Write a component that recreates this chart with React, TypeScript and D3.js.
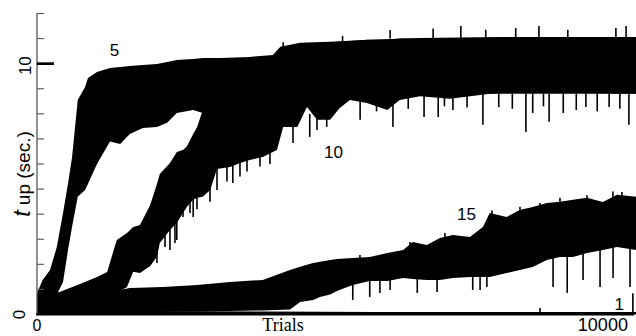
import * as d3 from "d3";

const WIDTH = 636;
const HEIGHT = 336;

// [trial, low edge, high edge] of each noisy band (sec.)
type Band = [number, number, number];

const series5: Band[] = [
  [0, 0.1, 0.86],
  [100, 0.15, 1.38],
  [230, 0.4, 1.77],
  [350, 0.8, 2.69],
  [460, 1.3, 4.05],
  [550, 2.6, 5.24],
  [620, 3.5, 6.28],
  [720, 4.69, 8.55],
  [850, 4.96, 9.07],
  [900, 5.2, 9.43],
  [1060, 6.0, 9.67],
  [1290, 6.9, 9.83],
  [1470, 6.8, 9.87],
  [1640, 7.2, 9.91],
  [1870, 7.44, 9.95],
  [2120, 7.48, 9.99],
  [2300, 7.64, 10.07],
  [2470, 8.03, 10.15],
  [2760, 8.15, 10.19],
  [2930, 8.03, 10.23],
  [3230, 8.15, 10.23],
  [3760, 8.35, 10.27],
  [4170, 8.45, 10.35],
  [4300, 8.55, 10.67],
  [4650, 8.6, 10.83],
  [5180, 8.65, 10.87],
  [5880, 8.7, 10.95],
  [6770, 8.75, 11.02],
  [8180, 8.8, 11.06],
  [10600, 8.8, 11.06],
];

const series10: Band[] = [
  [0, 0.02, 0.9],
  [400, 0.02, 0.9],
  [760, 0.05, 1.22],
  [1060, 0.1, 1.5],
  [1240, 0.15, 1.69],
  [1340, 0.2, 2.45],
  [1410, 0.86, 2.97],
  [1590, 1.1, 3.25],
  [1700, 1.7, 3.49],
  [1820, 1.65, 3.57],
  [2000, 1.93, 4.37],
  [2120, 2.3, 5.2],
  [2170, 2.85, 5.6],
  [2350, 3.37, 6.04],
  [2470, 3.65, 6.48],
  [2580, 4.05, 6.56],
  [2650, 4.3, 6.71],
  [2760, 4.57, 7.2],
  [2830, 4.65, 7.48],
  [2930, 4.69, 8.15],
  [3060, 4.96, 8.55],
  [3180, 5.8, 8.75],
  [3410, 5.88, 9.0],
  [3590, 6.04, 9.2],
  [3760, 6.16, 9.35],
  [3990, 6.28, 9.6],
  [4240, 6.56, 10.0],
  [4350, 7.48, 10.6],
  [4600, 7.48, 10.75],
  [4770, 8.27, 10.8],
  [4950, 7.76, 10.8],
  [5180, 7.76, 10.85],
  [5350, 8.23, 10.87],
  [5530, 8.55, 10.9],
  [5830, 8.43, 10.95],
  [6190, 8.15, 10.95],
  [6410, 8.55, 11.0],
  [6770, 8.7, 11.0],
  [7300, 8.6, 11.02],
  [8180, 8.85, 11.02],
  [9070, 8.85, 11.02],
  [10600, 8.8, 11.02],
];

const series15: Band[] = [
  [0, 0.08, 0.58],
  [320, 0.08, 0.86],
  [760, 0.08, 0.9],
  [1380, 0.1, 0.94],
  [1640, 0.1, 1.06],
  [2230, 0.12, 1.1],
  [2830, 0.12, 1.18],
  [3410, 0.14, 1.3],
  [3990, 0.16, 1.38],
  [4470, 0.2, 1.77],
  [4650, 0.5, 1.9],
  [4880, 0.58, 2.05],
  [5000, 0.7, 2.1],
  [5180, 0.8, 2.17],
  [5300, 0.94, 2.21],
  [5580, 1.18, 2.25],
  [5880, 1.34, 2.29],
  [6190, 1.34, 2.45],
  [6470, 1.46, 2.57],
  [6640, 1.42, 2.89],
  [6890, 1.38, 2.77],
  [7120, 1.38, 3.05],
  [7350, 1.46, 3.17],
  [7650, 1.5, 3.09],
  [7880, 1.5, 3.49],
  [8000, 1.5, 4.05],
  [8300, 1.65, 3.89],
  [8530, 1.77, 4.17],
  [8760, 1.89, 4.29],
  [9010, 2.17, 4.45],
  [9240, 2.29, 4.5],
  [9470, 2.29, 4.57],
  [9720, 2.45, 4.65],
  [10000, 2.57, 4.49],
  [10250, 2.69, 4.77],
  [10600, 2.57, 4.69],
];

const series1: Band[] = [
  [0, 0, 0.12],
  [2000, 0, 0.14],
  [4000, 0, 0.12],
  [6000, 0, 0.1],
  [8000, 0, 0.1],
  [10600, 0, 0.1],
];

// single outlier strokes: [trial, from, to]
const spikes: Band[] = [
  // top band, lower side
  [6840, 7.87, 8.8], [7090, 7.87, 8.8], [7350, 8.15, 8.8], [7880, 7.56, 8.8],
  [8160, 8.27, 8.8], [8640, 7.28, 8.8], [8760, 8.03, 8.8], [9050, 7.68, 8.8],
  [9300, 8.03, 8.8], [9530, 8.15, 8.8], [9700, 8.27, 8.8], [10110, 8.27, 8.8],
  [10460, 7.56, 8.8], [4820, 7.08, 8.0], [5120, 7.48, 8.0], [5710, 7.76, 8.6],
  [6290, 7.48, 8.4], [6000, 8.1, 8.6], [6560, 8.2, 8.7], [7200, 8.3, 8.7],
  [7600, 8.25, 8.8], [8400, 8.2, 8.8], [8950, 8.3, 8.8], [9900, 8.1, 8.8],
  [10300, 8.2, 8.8],
  // 10, lower side
  [2120, 2.05, 2.5], [2262, 2.69, 3.3], [2350, 2.57, 3.4], [2438, 2.85, 3.6],
  [2470, 2.97, 3.7], [2580, 3.89, 4.3], [2704, 4.05, 4.6], [2760, 3.89, 4.6],
  [2827, 4.2, 4.8], [3057, 4.5, 5.1], [3181, 4.96, 5.9], [3357, 5.3, 6.0],
  [3460, 5.24, 6.0], [3587, 5.5, 6.2], [3711, 5.7, 6.3], [3940, 5.9, 6.4],
  [4117, 6.0, 6.6], [4524, 6.84, 7.6], [4948, 7.36, 7.9],
  // top band, upper side
  [6240, 11.0, 11.34], [7000, 11.0, 11.4], [7490, 11.0, 11.5], [7930, 11.0, 11.35],
  [8460, 11.0, 11.42], [8870, 11.0, 11.5], [9380, 11.0, 11.35], [10230, 11.0, 11.42],
  [10410, 11.0, 11.5], [4350, 10.5, 10.85], [5400, 10.8, 11.1],
  // 15, lower side
  [5580, 0.58, 1.3], [5880, 0.7, 1.4], [6060, 0.86, 1.4], [6240, 0.98, 1.4],
  [6720, 0.86, 1.5], [7070, 0.9, 1.5], [7700, 0.98, 1.6], [7830, 0.98, 1.6],
  [7950, 1.1, 1.6], [9120, 1.1, 2.3], [9370, 0.86, 2.4], [9650, 1.38, 2.5],
  [9950, 1.1, 2.6], [10180, 1.46, 2.8], [10480, 1.1, 2.7],
  // 15, upper side
  [5707, 2.1, 2.37], [6591, 2.5, 2.89], [7209, 2.9, 3.25], [8040, 3.8, 4.15],
  [8535, 4.0, 4.3], [8888, 4.2, 4.45], [9242, 4.3, 4.65], [9719, 4.5, 4.75],
  [10178, 4.6, 4.9], [10337, 4.6, 4.88],
  // 1
  [8890, 0, 0.26], [10530, 0, 0.85],
];

const bandLabels = ["5", "10", "15", "1"];
const labelAt: [number, number][] = [
  [1370, 10.3],
  [5240, 6.24],
  [7590, 3.77],
  [10290, 0.17],
];

const yTicks = [0, 1, 2, 3, 4, 5, 6, 7, 8, 9, 10, 11, 12];
const yTickLabels = [0, 10];
const xTickLabels = [0, 10000];

export default function App() {
  const x = d3.scaleLinear().domain([0, 10550]).range([37, 634]);
  const y = d3.scaleLinear().domain([0, 12]).range([314.5, 13.5]);

  const area = d3
    .area<Band>()
    .x((d) => x(d[0]))
    .y0((d) => y(d[1]))
    .y1((d) => y(d[2]))
    .curve(d3.curveLinear);

  const sans = "'Liberation Sans', Arial, sans-serif";

  return (
    <svg
      width={WIDTH}
      height={HEIGHT}
      style={{ position: "absolute", left: 0, top: 0, background: "#fff" }}
    >
      {[series1, series15, series10, series5].map((s, i) => (
        <path key={`band-${i}`} d={area(s) ?? ""} fill="#000" />
      ))}
      {spikes.map((d, i) => (
        <line
          key={`spike-${i}`}
          x1={x(d[0])}
          x2={x(d[0])}
          y1={y(d[1])}
          y2={y(d[2])}
          stroke="#000"
          strokeWidth={1.6}
        />
      ))}

      {/* y axis */}
      <line x1={37} x2={37} y1={y(12)} y2={y(0)} stroke="#555" strokeWidth={1.3} />
      {yTicks.map((t) => (
        <line
          key={`yt-${t}`}
          x1={37}
          x2={t === 10 ? 54 : 44}
          y1={y(t)}
          y2={y(t)}
          stroke={t === 10 ? "#000" : "#555"}
          strokeWidth={t === 10 ? 2.7 : 1.1}
        />
      ))}
      {yTickLabels.map((t) => (
        <text
          key={`yl-${t}`}
          transform={`translate(${t === 0 ? 25 : 31},${y(t) + (t === 0 ? 0 : 2)}) rotate(-90)`}
          textAnchor="middle"
          fontFamily={sans}
          fontSize={17}
          fill="#000"
        >
          {t}
        </text>
      ))}
      <text
        transform={`translate(30,174) rotate(-90)`}
        textAnchor="middle"
        fontFamily={sans}
        fontSize={19}
        fill="#000"
      >
        <tspan fontStyle="italic" fontSize={23}>
          t
        </tspan>
        <tspan> up (sec.)</tspan>
      </text>

      {/* x axis */}
      <line x1={36} x2={634} y1={y(0)} y2={y(0)} stroke="#000" strokeWidth={2} />
      {xTickLabels.map((t) => (
        <text
          key={`xl-${t}`}
          x={x(t)}
          y={331}
          textAnchor="middle"
          fontFamily={sans}
          fontSize={t === 0 ? 16 : 18}
          fill="#000"
        >
          {t}
        </text>
      ))}
      <text
        x={283}
        y={331}
        textAnchor="middle"
        fontFamily="'Liberation Serif', 'Times New Roman', serif"
        fontSize={18}
        fill="#000"
      >
        Trials
      </text>

      {bandLabels.map((l, i) => (
        <text
          key={`bl-${i}`}
          x={x(labelAt[i][0])}
          y={y(labelAt[i][1])}
          textAnchor="middle"
          fontFamily={sans}
          fontSize={17}
          fill="#000"
        >
          {l}
        </text>
      ))}
    </svg>
  );
}
